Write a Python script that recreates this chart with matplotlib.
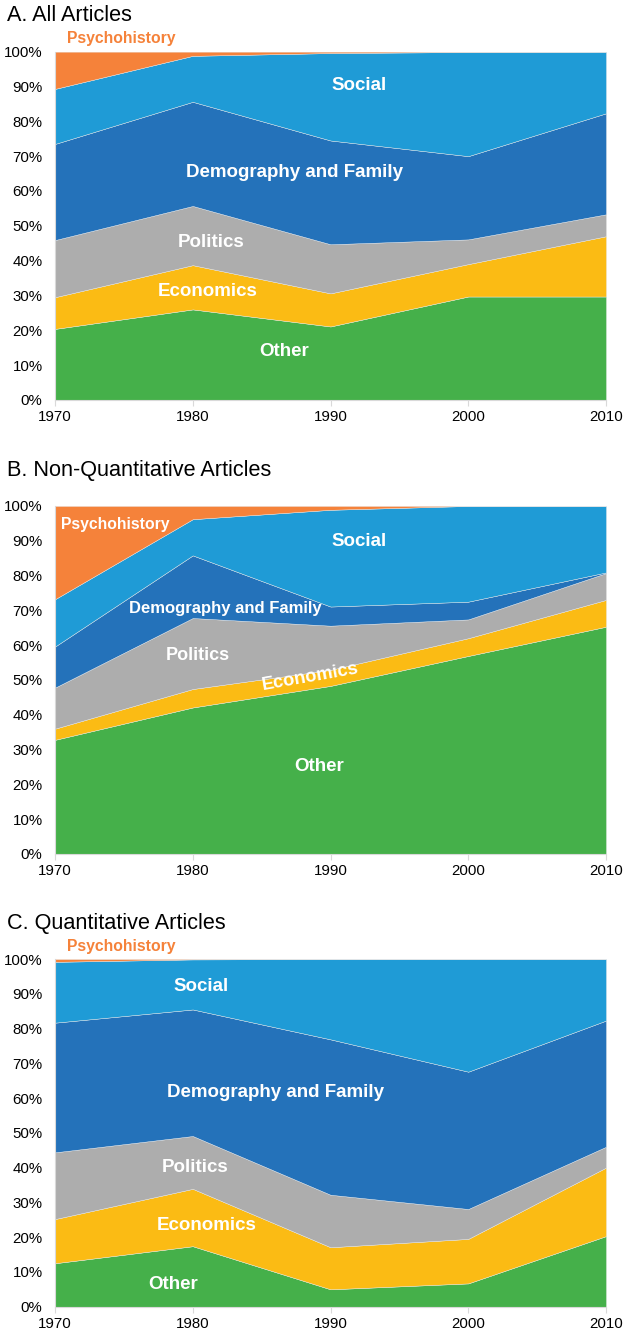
import matplotlib
matplotlib.use("Agg")
import matplotlib.pyplot as plt
from matplotlib.ticker import FuncFormatter

plt.rcParams["font.family"] = ["Liberation Sans", "DejaVu Sans"]

years = [1970, 1980, 1990, 2000, 2010]
categories = ["Other", "Economics", "Politics", "Demography and Family", "Social", "Psychohistory"]
colors = ["#45b04a", "#fbbb14", "#adadad", "#2472ba", "#1f9bd6", "#f5823a"]

# shares in percent, bottom to top
all_other = [20.4, 26.0, 21.1, 29.7, 29.7]
all_econ = [9.1, 12.7, 9.5, 9.3, 17.3]
all_pol = [16.4, 17.0, 14.1, 7.1, 6.3]
all_demo = [27.6, 29.9, 29.8, 23.9, 29.0]
all_social = [15.8, 13.2, 25.1, 29.9, 17.7]
all_psycho = [10.7, 1.2, 0.4, 0.1, 0.0]

nonq_other = [32.8, 42.1, 48.3, 56.9, 65.3]
nonq_econ = [3.2, 5.3, 4.6, 5.1, 7.7]
nonq_pol = [11.8, 20.4, 12.7, 5.4, 7.7]
nonq_demo = [11.8, 18.0, 5.5, 5.1, 0.2]
nonq_social = [13.6, 10.4, 27.8, 27.5, 19.1]
nonq_psycho = [26.8, 3.8, 1.1, 0.0, 0.0]

quant_other = [12.5, 17.4, 5.0, 6.7, 20.3]
quant_econ = [12.7, 16.5, 12.1, 12.8, 19.7]
quant_pol = [19.2, 15.2, 15.1, 8.6, 6.0]
quant_demo = [37.3, 36.4, 44.7, 39.5, 36.3]
quant_social = [17.5, 14.4, 23.1, 32.4, 17.7]
quant_psycho = [0.8, 0.1, 0.0, 0.0, 0.0]

panels = [
    {
        "title": "A. All Articles",
        "series": [all_other, all_econ, all_pol, all_demo, all_social, all_psycho],
        "rect": [0.088, 0.7004, 0.8816, 0.2609],
        # (text, x, y, size, color, rotation)
        "labels": [
            ("Psychohistory", 1974.8, 103.9, 11.3, "#f5823a", 0),
            ("Social", 1992.1, 90.2, 13.5, "white", 0),
            ("Demography and Family", 1987.4, 65.2, 13.5, "white", 0),
            ("Politics", 1981.3, 45.1, 13.5, "white", 0),
            ("Economics", 1981.1, 31.0, 13.5, "white", 0),
            ("Other", 1986.6, 13.8, 13.5, "white", 0),
        ],
    },
    {
        "title": "B. Non-Quantitative Articles",
        "series": [nonq_other, nonq_econ, nonq_pol, nonq_demo, nonq_social, nonq_psycho],
        "rect": [0.088, 0.3603, 0.8816, 0.2607],
        "labels": [
            ("Psychohistory", 1974.4, 94.8, 11.3, "white", 0),
            ("Social", 1992.1, 89.7, 13.5, "white", 0),
            ("Demography and Family", 1982.4, 70.4, 12.0, "white", 0),
            ("Politics", 1980.4, 56.9, 13.0, "white", 0),
            ("Economics", 1988.5, 50.9, 13.2, "white", 10),
            ("Other", 1989.2, 25.0, 13.5, "white", 0),
        ],
    },
    {
        "title": "C. Quantitative Articles",
        "series": [quant_other, quant_econ, quant_pol, quant_demo, quant_social, quant_psycho],
        "rect": [0.088, 0.0212, 0.8816, 0.2604],
        "labels": [
            ("Psychohistory", 1974.8, 103.7, 11.3, "#f5823a", 0),
            ("Social", 1980.6, 92.2, 13.5, "white", 0),
            ("Demography and Family", 1986.0, 61.5, 13.5, "white", 0),
            ("Politics", 1980.2, 39.9, 13.5, "white", 0),
            ("Economics", 1981.0, 23.5, 13.5, "white", 0),
            ("Other", 1978.6, 6.5, 13.5, "white", 0),
        ],
    },
]

fig = plt.figure(figsize=(6.25, 13.35), dpi=100)

for panel in panels:
    ax = fig.add_axes(panel["rect"])
    ax.stackplot(years, *panel["series"], colors=colors, labels=categories,
                 edgecolor="#e8e8e8", linewidth=0.3, alpha=1.0)
    ax.set_xlim(1970, 2010)
    ax.set_ylim(0, 100)
    ax.set_xticks(years)
    ax.set_yticks(range(0, 101, 10))
    ax.yaxis.set_major_formatter(FuncFormatter(lambda v, _: f"{int(v)}%"))
    ax.tick_params(axis="both", labelsize=10.8, colors="#d9d9d9", labelcolor="black",
                   length=4, width=0.8)
    ax.tick_params(axis="y", length=0, pad=9)
    for side in ("top", "right"):
        ax.spines[side].set_visible(False)
    for side in ("left", "bottom"):
        ax.spines[side].set_color("#d9d9d9")
        ax.spines[side].set_linewidth(0.8)

    ax.text(-0.087, 1.1025, panel["title"], transform=ax.transAxes, fontsize=15.6,
            ha="left", va="center")

    for text, x, y, size, color, rot in panel["labels"]:
        ax.text(x, y, text, color=color, fontsize=size, fontweight="bold",
                ha="center", va="center", rotation=rot, clip_on=False)

fig.savefig("out.png", dpi=100)
